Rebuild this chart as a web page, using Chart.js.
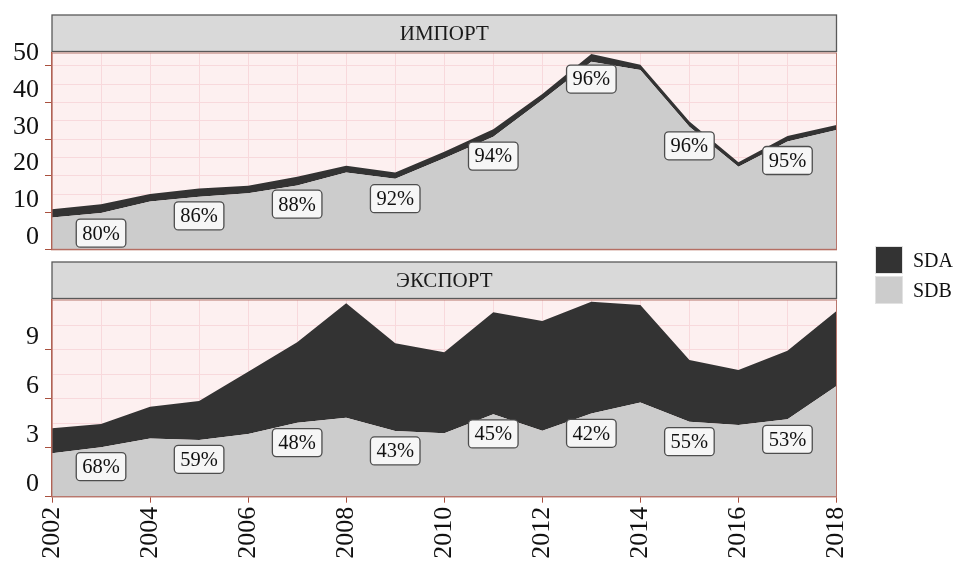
<!DOCTYPE html>
<html>
<head>
<meta charset="utf-8">
<script src="https://cdn.jsdelivr.net/npm/chart.js@4/dist/chart.umd.min.js"></script>
<style>
body { margin: 0; background: #fff; width: 955px; height: 564px; position: relative; overflow: hidden; font-family: "Liberation Serif", serif; }
#importChart { position: absolute; left: 0; top: 0; }
#exportChart { position: absolute; left: 0; top: 252px; }
.key { position: absolute; left: 875px; width: 28px; height: 28px; box-sizing: border-box; border: 1px solid #e2e2e2; }
.keyText { position: absolute; left: 913px; font-size: 20px; line-height: 28px; color: #111; }
</style>
</head>
<body>
<canvas id="importChart" width="955" height="252"></canvas>
<canvas id="exportChart" width="955" height="312"></canvas>
<div class="key" style="top:246px;background:#333333"></div>
<div class="keyText" style="top:246px">SDA</div>
<div class="key" style="top:276px;background:#cccccc"></div>
<div class="keyText" style="top:276px">SDB</div>
<script>
// data
var years = [2002, 2003, 2004, 2005, 2006, 2007, 2008, 2009, 2010, 2011, 2012, 2013, 2014, 2015, 2016, 2017, 2018];
var importSDB = [8.7, 9.9, 13.0, 14.3, 15.3, 17.4, 20.9, 19.2, 24.8, 30.7, 40.7, 51.1, 48.9, 33.4, 22.5, 29.4, 32.5];
var importSDA = [2.2, 2.4, 2.1, 2.3, 2.0, 2.4, 1.9, 1.7, 1.8, 2.0, 1.6, 2.1, 1.4, 1.4, 1.2, 1.5, 1.4];
var exportSDB = [2.66, 3.02, 3.57, 3.47, 3.84, 4.53, 4.84, 4.02, 3.88, 5.05, 4.04, 5.10, 5.76, 4.59, 4.39, 4.74, 6.78];
var exportSDA = [1.53, 1.43, 1.94, 2.39, 3.81, 4.92, 7.00, 5.37, 4.96, 6.24, 6.72, 6.84, 5.98, 3.78, 3.37, 4.20, 4.59];

// percentage labels: year, height, text
var labelYears = [2003, 2005, 2007, 2009, 2011, 2013, 2015, 2017];
var importLabelY = [4.4, 9.1, 12.3, 13.8, 25.4, 46.4, 28.2, 24.2];
var importLabelText = ['80%', '86%', '88%', '92%', '94%', '96%', '96%', '95%'];
var exportLabelY = [1.84, 2.29, 3.31, 2.8, 3.84, 3.88, 3.37, 3.51];
var exportLabelText = ['68%', '59%', '48%', '43%', '45%', '42%', '55%', '53%'];

// labelled ticks and the finer grid between them
var yearTicks = [2002, 2004, 2006, 2008, 2010, 2012, 2014, 2016, 2018];
var importTicks = [0, 10, 20, 30, 40, 50];
var importGrid = [0, 5, 10, 15, 20, 25, 30, 35, 40, 45, 50];
var exportTicks = [0, 3, 6, 9];
var exportGrid = [0, 1.5, 3, 4.5, 6, 7.5, 9, 10.5];

var axisColor = '#a9503f';
var gridColor = '#f8d9dc';
var serif = '"Liberation Serif", "Times New Roman", serif';

function points(vals) {
    return years.map(function (y, i) { return { x: y, y: vals[i] }; });
}

function hasTick(list, v) {
    return list.some(function (t) { return Math.abs(t - v) < 1e-6; });
}

// pink panel, strip on top, frame, percent boxes
var panelPlugin = {
    id: 'panel',
    beforeDraw: function (chart) {
        var a = chart.chartArea, ctx = chart.ctx;
        ctx.save();
        ctx.fillStyle = '#fdf0f0';
        ctx.fillRect(a.left, a.top, a.right - a.left, a.bottom - a.top);
        // strip
        ctx.fillStyle = '#d9d9d9';
        ctx.strokeStyle = '#595959';
        ctx.lineWidth = 1.3;
        ctx.fillRect(a.left, a.top - 38, a.right - a.left, 36.5);
        ctx.strokeRect(a.left, a.top - 38, a.right - a.left, 36.5);
        ctx.fillStyle = '#1a1a1a';
        ctx.font = '21px ' + serif;
        ctx.textAlign = 'center';
        ctx.textBaseline = 'middle';
        ctx.fillText(chart.options.plugins.panel.title, (a.left + a.right) / 2, a.top - 19);
        ctx.restore();
    },
    afterDatasetsDraw: function (chart) {
        var a = chart.chartArea, ctx = chart.ctx;
        var o = chart.options.plugins.panel;
        var xs = chart.scales.x, ys = chart.scales.y;
        ctx.save();
        ctx.strokeStyle = '#b8766c';
        ctx.lineWidth = 1;
        ctx.strokeRect(a.left, a.top, a.right - a.left, a.bottom - a.top);
        ctx.font = '20.5px ' + serif;
        ctx.textAlign = 'center';
        ctx.textBaseline = 'middle';
        for (var i = 0; i < o.years.length; i++) {
            var px = xs.getPixelForValue(o.years[i]);
            var py = ys.getPixelForValue(o.ys[i]);
            var w = ctx.measureText(o.texts[i]).width + 12;
            var h = 28;
            ctx.beginPath();
            ctx.roundRect(px - w / 2, py - h / 2, w, h, 4);
            ctx.fillStyle = '#f6f6f6';
            ctx.fill();
            ctx.strokeStyle = '#4d4d4d';
            ctx.lineWidth = 1.3;
            ctx.stroke();
            ctx.fillStyle = '#111';
            ctx.fillText(o.texts[i], px, py + 1);
        }
        ctx.restore();
    }
};

function makeChart(id, sdb, sda, yMax, yGrid, yTicks, title, lblY, lblText, bottom) {
    var ctx = document.getElementById(id).getContext('2d');
    return new Chart(ctx, {
        type: 'line',
        data: {
            datasets: [{
                label: 'SDB',
                data: points(sdb),
                backgroundColor: '#cccccc',
                borderWidth: 0,
                pointRadius: 0,
                fill: 'origin',
                tension: 0
            }, {
                label: 'SDA',
                data: points(sda),
                backgroundColor: '#333333',
                borderColor: '#333333',
                borderWidth: 0,
                pointRadius: 0,
                fill: '-1',
                tension: 0
            }]
        },
        options: {
            responsive: false,
            animation: false,
            events: [],
            layout: {
                padding: { top: bottom ? 48 : 53, right: 118.5, bottom: bottom ? 0 : 2.7, left: 0 }
            },
            plugins: {
                legend: { display: false },
                tooltip: { enabled: false },
                panel: { title: title, years: labelYears, ys: lblY, texts: lblText }
            },
            scales: {
                x: {
                    type: 'linear',
                    min: 2002,
                    max: 2018,
                    afterBuildTicks: function (s) {
                        s.ticks = years.map(function (v) { return { value: v }; });
                    },
                    border: { display: true, color: axisColor, width: 1.3 },
                    grid: {
                        color: gridColor,
                        drawTicks: bottom,
                        tickLength: 6,
                        tickColor: function (c) {
                            return c.tick && hasTick(yearTicks, c.tick.value) ? axisColor : 'rgba(0,0,0,0)';
                        }
                    },
                    ticks: {
                        display: bottom,
                        autoSkip: false,
                        minRotation: 90,
                        maxRotation: 90,
                        padding: 4,
                        color: '#111',
                        font: { family: serif, size: 26 },
                        callback: function (v) { return hasTick(yearTicks, v) ? String(v) : ''; }
                    },
                    afterFit: function (s) {
                        s.height = bottom ? 67.3 : 0;
                        s.paddingLeft = 0;
                        s.paddingRight = 0;
                    }
                },
                y: {
                    stacked: true,
                    min: 0,
                    max: yMax,
                    afterBuildTicks: function (s) {
                        s.ticks = yGrid.map(function (v) { return { value: v }; });
                    },
                    border: { display: true, color: axisColor, width: 1.3 },
                    grid: {
                        color: gridColor,
                        tickLength: 7,
                        tickColor: function (c) {
                            return c.tick && hasTick(yTicks, c.tick.value) ? axisColor : 'rgba(0,0,0,0)';
                        }
                    },
                    ticks: {
                        autoSkip: false,
                        padding: 6,
                        labelOffset: -12.5,
                        color: '#111',
                        font: { family: serif, size: 26 },
                        callback: function (v) { return hasTick(yTicks, v) ? String(v) : ''; }
                    },
                    afterFit: function (s) {
                        s.width = 52;
                        s.paddingTop = 0;
                        s.paddingBottom = 0;
                    }
                }
            }
        },
        plugins: [panelPlugin]
    });
}

var importChart = makeChart('importChart', importSDB, importSDA, 53.5, importGrid, importTicks, 'ИМПОРТ', importLabelY, importLabelText, false);
var exportChart = makeChart('exportChart', exportSDB, exportSDA, 12.04, exportGrid, exportTicks, 'ЭКСПОРТ', exportLabelY, exportLabelText, true);
</script>
</body>
</html>
